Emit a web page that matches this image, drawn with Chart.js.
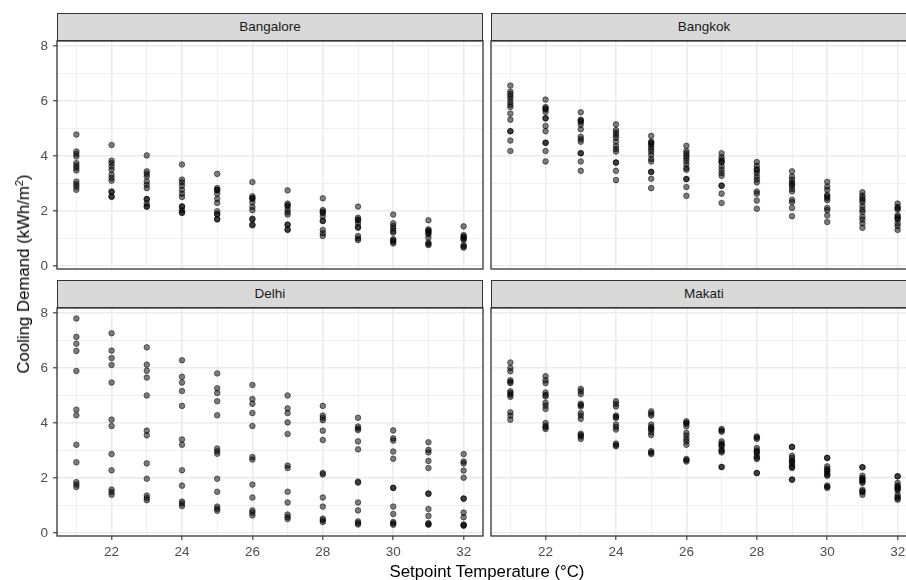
<!DOCTYPE html>
<html>
<head>
<meta charset="utf-8">
<script src="https://cdn.jsdelivr.net/npm/chart.js@4.4.0/dist/chart.umd.min.js"></script>
<style>
  html, body { margin: 0; padding: 0; background: #ffffff; overflow: hidden; }
  #page { position: relative; width: 930px; height: 580px; font-family: 'Liberation Sans', Arial, sans-serif; }
  canvas { position: absolute; }
  .strip {
    position: absolute; box-sizing: border-box; height: 28px;
    background: #D9D9D9; border: 1.3px solid #333333;
    color: #1A1A1A; font-size: 13.5px; line-height: 26px; text-align: center; z-index: 2;
  }
  .ytitle {
    position: absolute; left: 24px; top: 274px; white-space: nowrap;
    transform: translate(-50%, -50%) rotate(-90deg);
    font-size: 16.8px; color: #000; line-height: 20px;
  }
  .ytitle sup { font-size: 11px; vertical-align: 6px; line-height: 0; }
  .xtitle {
    position: absolute; left: 487px; top: 562px; white-space: nowrap;
    transform: translateX(-50%); font-size: 16.8px; color: #000; line-height: 20px;
  }
</style>
</head>
<body>
<div id="page">
  <div class="strip" style="left:57px; top:13px; width:426px;">Bangalore</div>
  <div class="strip" style="left:491px; top:13px; width:426px;">Bangkok</div>
  <div class="strip" style="left:57px; top:280px; width:426px;">Delhi</div>
  <div class="strip" style="left:491px; top:280px; width:426px;">Makati</div>
  <canvas id="cBangalore" width="490" height="255" style="left:0px; top:28px;"></canvas>
  <canvas id="cBangkok" width="445" height="255" style="left:480px; top:28px;"></canvas>
  <canvas id="cDelhi" width="490" height="275" style="left:0px; top:295px;"></canvas>
  <canvas id="cMakati" width="445" height="275" style="left:480px; top:295px;"></canvas>
  <div class="ytitle">Cooling Demand (kWh/m<sup>2</sup>)</div>
  <div class="xtitle">Setpoint Temperature (°C)</div>
</div>
<script>
// Setpoint temperatures (°C) on the x axis
const setpoints = [21, 22, 23, 24, 25, 26, 27, 28, 29, 30, 31, 32];
const xTicks = [21, 22, 23, 24, 25, 26, 27, 28, 29, 30, 31, 32];
const yTicks = [0, 1, 2, 3, 4, 5, 6, 7, 8];

// Cooling demand (kWh/m²) per setpoint, one inner list per temperature
const bangalore = [
  [4.78, 4.16, 4.07, 3.98, 3.74, 3.65, 3.56, 3.47, 3.07, 2.97, 2.88, 2.77],
  [4.40, 3.83, 3.74, 3.62, 3.50, 3.32, 3.20, 3.10, 2.71, 2.69, 2.51, 2.53],
  [4.02, 3.44, 3.35, 3.25, 3.07, 2.95, 2.83, 2.44, 2.42, 2.27, 2.15, 2.17],
  [3.69, 3.14, 3.04, 2.92, 2.77, 2.63, 2.51, 2.17, 2.15, 2.03, 1.93, 1.95],
  [3.35, 2.83, 2.75, 2.63, 2.44, 2.29, 2.77, 1.99, 1.87, 1.89, 1.69, 1.71],
  [3.05, 2.53, 2.44, 2.32, 2.15, 2.03, 2.47, 1.72, 1.69, 1.48, 1.50],
  [2.75, 2.27, 2.17, 2.05, 1.87, 1.51, 1.49, 1.31, 1.33, 2.21, 1.95],
  [2.46, 2.03, 1.93, 1.81, 1.63, 1.31, 1.19, 1.09, 1.65, 1.97],
  [2.16, 1.75, 1.66, 1.55, 1.39, 1.09, 1.00, 0.94, 1.69, 1.42],
  [1.87, 1.55, 1.45, 1.36, 1.21, 0.97, 0.88, 0.82, 1.27, 0.93],
  [1.66, 1.33, 1.25, 1.15, 1.03, 0.85, 0.76, 1.20, 0.80, 1.29],
  [1.44, 1.12, 1.03, 0.95, 0.76, 0.67, 1.07, 0.71, 0.99]
];
const bangkok = [
  [6.56, 6.34, 6.26, 6.17, 6.08, 5.96, 5.86, 5.78, 5.54, 5.32, 4.90, 4.90, 4.56, 4.18],
  [6.05, 5.78, 5.69, 5.60, 5.38, 5.09, 4.90, 4.48, 4.48, 4.18, 3.80, 5.73, 5.36],
  [5.59, 5.32, 5.24, 5.14, 4.97, 4.70, 4.61, 4.52, 4.10, 4.10, 3.80, 3.46, 5.28],
  [5.15, 4.94, 4.85, 4.76, 4.66, 4.52, 4.36, 4.25, 4.16, 3.76, 3.76, 3.46, 3.12],
  [4.73, 4.52, 4.43, 4.34, 4.25, 4.16, 4.04, 3.89, 3.80, 3.42, 3.42, 3.17, 2.83, 4.48],
  [4.37, 4.18, 4.10, 4.01, 3.92, 3.82, 3.70, 3.56, 3.50, 3.16, 3.16, 2.87, 2.55],
  [4.10, 3.95, 3.86, 3.76, 3.62, 3.50, 3.38, 3.28, 2.92, 2.92, 2.63, 2.29, 3.80],
  [3.78, 3.64, 3.52, 3.38, 3.25, 3.14, 3.04, 2.71, 2.63, 2.38, 2.08, 3.48],
  [3.44, 3.25, 3.14, 3.04, 2.92, 2.80, 2.71, 2.41, 2.32, 2.11, 1.81, 2.97],
  [3.06, 2.89, 2.77, 2.59, 2.47, 2.39, 2.11, 2.03, 1.84, 1.60, 2.53],
  [2.68, 2.56, 2.47, 2.32, 2.17, 2.05, 1.96, 1.79, 1.69, 1.55, 1.39, 2.40],
  [2.27, 2.15, 2.05, 1.84, 1.79, 1.69, 1.55, 1.45, 1.31, 2.10, 1.73]
];
const delhi = [
  [7.80, 7.13, 6.88, 6.62, 5.89, 4.48, 4.28, 3.21, 2.57, 1.85, 1.76, 1.67],
  [7.26, 6.63, 6.36, 6.11, 5.47, 4.12, 3.89, 2.87, 2.28, 1.58, 1.49, 1.39],
  [6.75, 6.12, 5.90, 5.65, 5.00, 3.72, 3.55, 2.53, 1.97, 1.36, 1.27, 1.19],
  [6.28, 5.68, 5.47, 5.16, 4.62, 3.40, 3.21, 2.28, 1.72, 1.14, 1.07, 0.98],
  [5.80, 5.26, 5.09, 4.79, 4.28, 3.07, 2.97, 2.88, 1.97, 1.50, 0.96, 0.88, 0.81],
  [5.38, 4.87, 4.70, 4.36, 3.89, 2.76, 2.67, 1.76, 1.29, 0.82, 0.74, 0.64],
  [5.00, 4.53, 4.36, 4.02, 3.60, 2.45, 2.36, 1.50, 1.11, 0.67, 0.58, 0.51],
  [4.62, 4.27, 4.18, 4.10, 3.72, 3.38, 2.18, 2.13, 1.29, 0.96, 0.52, 0.46, 0.40],
  [4.19, 3.87, 3.80, 3.74, 3.33, 3.04, 1.87, 1.83, 1.11, 0.82, 0.42, 0.36, 0.31],
  [3.73, 3.44, 3.36, 2.96, 2.70, 1.64, 1.64, 0.96, 0.69, 0.40, 0.35, 0.30],
  [3.30, 3.02, 2.93, 2.62, 2.36, 1.43, 1.43, 0.87, 0.62, 0.36, 0.31, 0.31],
  [2.87, 2.60, 2.53, 2.27, 2.01, 1.25, 1.25, 0.74, 0.57, 0.31, 0.27, 0.27]
];
const makati = [
  [6.20, 6.00, 5.88, 5.55, 5.45, 5.15, 5.03, 4.95, 4.39, 4.27, 4.12, 5.50, 5.09],
  [5.70, 5.55, 5.45, 5.11, 5.02, 4.73, 4.63, 4.51, 4.00, 3.90, 3.78, 4.96, 3.84],
  [5.24, 5.15, 5.05, 4.70, 4.60, 4.36, 4.27, 4.15, 3.61, 3.51, 3.42, 4.65, 3.56],
  [4.79, 4.69, 4.60, 4.27, 4.18, 3.94, 3.85, 3.76, 3.25, 3.15, 4.22, 3.20],
  [4.42, 4.34, 4.27, 3.94, 3.85, 3.76, 3.66, 3.56, 2.97, 2.87, 3.80, 2.92],
  [4.06, 3.97, 3.88, 3.64, 3.54, 3.42, 3.33, 3.21, 2.69, 2.60, 4.01, 2.65],
  [3.78, 3.68, 3.33, 3.25, 3.15, 3.03, 2.93, 2.40, 3.73, 3.20, 2.98, 2.40],
  [3.51, 3.42, 3.09, 3.00, 2.91, 2.79, 2.69, 2.18, 3.47, 2.95, 2.74, 2.18],
  [3.13, 2.81, 2.73, 2.64, 2.55, 2.45, 2.36, 1.94, 3.13, 2.60, 2.40, 1.94],
  [2.73, 2.42, 2.33, 2.24, 2.16, 2.08, 1.72, 1.64, 2.73, 2.28, 2.12, 1.68],
  [2.39, 2.08, 2.00, 1.91, 1.82, 1.57, 1.48, 1.39, 2.39, 1.96, 1.87, 1.52],
  [2.06, 1.82, 1.72, 1.64, 1.55, 1.39, 1.31, 1.21, 2.06, 1.68, 1.60, 1.26]
];

const FONT = "'Liberation Sans', Arial, sans-serif";
const GRID = '#EBEBEB';
const INK = '#333333';
const X_MIN = 20.45, X_MAX = 32.55;
const Y_MIN = -0.11, Y_MAX = 8.18;

function toPoints(series) {
  const pts = [];
  series.forEach((vals, i) => vals.forEach(v => pts.push({ x: setpoints[i], y: v })));
  return pts;
}

// frame around each panel, drawn above the points
const panelFrame = {
  id: 'panelFrame',
  afterDraw(chart) {
    const { ctx, chartArea: a } = chart;
    ctx.save();
    ctx.strokeStyle = INK;
    ctx.lineWidth = 1.3;
    ctx.strokeRect(a.left, a.top, a.right - a.left, a.bottom - a.top);
    ctx.restore();
  }
};

function makePanel(canvasId, series, opts) {
  const { showX, showY, padding } = opts;
  const isMajor = v => v % 2 === 0;
  return new Chart(document.getElementById(canvasId), {
    type: 'scatter',
    data: {
      datasets: [{
        data: toPoints(series),
        backgroundColor: 'rgba(0,0,0,0.5)',
        borderColor: 'rgba(0,0,0,0.5)',
        borderWidth: 1,
        pointRadius: 2.8,
        pointHoverRadius: 2.8
      }]
    },
    plugins: [panelFrame],
    options: {
      responsive: false,
      animation: false,
      events: [],
      layout: { padding },
      plugins: { legend: { display: false }, tooltip: { enabled: false } },
      scales: {
        x: {
          type: 'linear', min: X_MIN, max: X_MAX,
          afterBuildTicks: s => { s.ticks = xTicks.map(v => ({ value: v })); },
          afterFit: s => { s.height = showX ? 30 : 0; s.paddingLeft = 0; s.paddingRight = 0; },
          border: { display: false },
          grid: {
            color: GRID,
            lineWidth: c => isMajor(c.tick.value) ? 1.6 : 0.8,
            drawTicks: showX,
            tickLength: 4,
            tickWidth: 1.1,
            tickColor: c => isMajor(c.tick.value) ? INK : 'rgba(0,0,0,0)'
          },
          ticks: {
            display: showX,
            padding: 4,
            color: '#4D4D4D',
            font: { family: FONT, size: 13.5 },
            maxRotation: 0, autoSkip: false,
            callback: v => isMajor(v) ? String(v) : ''
          }
        },
        y: {
          type: 'linear', min: Y_MIN, max: Y_MAX,
          afterBuildTicks: s => { s.ticks = yTicks.map(v => ({ value: v })); },
          afterFit: s => { s.width = showY ? 57 : 0; s.paddingTop = 0; s.paddingBottom = 0; },
          border: { display: false },
          grid: {
            color: GRID,
            lineWidth: c => isMajor(c.tick.value) ? 1.6 : 0.8,
            drawTicks: showY,
            tickLength: 4,
            tickWidth: 1.1,
            tickColor: c => isMajor(c.tick.value) ? INK : 'rgba(0,0,0,0)'
          },
          ticks: {
            display: showY,
            padding: 5,
            color: '#4D4D4D',
            font: { family: FONT, size: 13.5 },
            autoSkip: false,
            callback: v => isMajor(v) ? String(v) : ''
          }
        }
      }
    }
  });
}

makePanel('cBangalore', bangalore, { showX: false, showY: true,  padding: { left: 0,  right: 7, top: 13, bottom: 14 } });
makePanel('cBangkok',   bangkok,   { showX: false, showY: false, padding: { left: 11, right: 8, top: 13, bottom: 14 } });
makePanel('cDelhi',     delhi,     { showX: true,  showY: true,  padding: { left: 0,  right: 7, top: 13, bottom: 4 } });
makePanel('cMakati',    makati,    { showX: true,  showY: false, padding: { left: 11, right: 8, top: 13, bottom: 4 } });
</script>
</body>
</html>
